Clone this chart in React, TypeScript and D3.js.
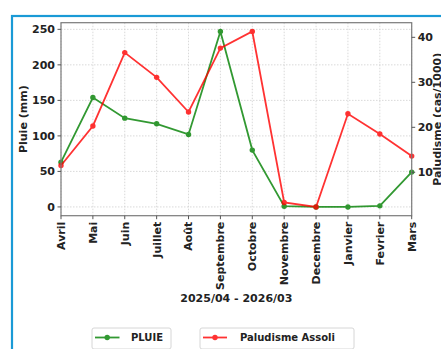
import React from "react";
import * as d3 from "d3";

const months = ["Avril", "Mai", "Juin", "Juillet", "Août", "Septembre", "Octobre", "Novembre", "Decembre", "Janvier", "Fevrier", "Mars"];
const pluie = [63, 154, 125, 117, 102, 247, 80, 1, 0, 0, 1.5, 49];
const paludisme = [11.5, 20.3, 36.6, 31.1, 23.4, 37.6, 41.3, 3.3, 2.3, 23.0, 18.5, 13.6];
const leftTicks = [0, 50, 100, 150, 200, 250];
const rightTicks = [10, 20, 30, 40];

const W = 441;
const H = 349;
const L = 61, R = 411.7, T = 22.7, B = 215.7;
const FONT = "'DejaVu Sans', sans-serif";

function padded(vals: number[]): [number, number] {
  const mn = d3.min(vals)!, mx = d3.max(vals)!;
  const r = mx - mn;
  return [mn - 0.05 * r, mx + 0.05 * r];
}

export default function App() {
  const x = d3.scalePoint<string>().domain(months).range([L, R]);
  const yL = d3.scaleLinear().domain(padded(pluie)).range([B, T]);
  const yR = d3.scaleLinear().domain(padded(paludisme)).range([B, T]);
  const lineL = d3.line<number>().x((_, i) => x(months[i])!).y((d) => yL(d));
  const lineR = d3.line<number>().x((_, i) => x(months[i])!).y((d) => yR(d));
  const green = "#008000";
  const red = "#ff0000";

  return (
    <svg width={W} height={H} style={{ position: "absolute", left: 0, top: 0, background: "#fff" }} fontFamily={FONT}>
      <rect x={0} y={0} width={W} height={H} fill="#fff" />
      <rect x={12} y={16} width={460} height={360} fill="none" stroke="#1a9ad6" strokeWidth={2.2} />
      {/* grid */}
      {months.map((m) => (
        <line key={"gx" + m} x1={x(m)} x2={x(m)} y1={T} y2={B} stroke="#cfcfcf" strokeWidth={0.8} strokeDasharray="1.5,1.5" />
      ))}
      {leftTicks.map((t) => (
        <line key={"gy" + t} x1={L} x2={R} y1={yL(t)} y2={yL(t)} stroke="#cfcfcf" strokeWidth={0.8} strokeDasharray="1.5,1.5" />
      ))}
      {/* lines */}
      <g opacity={0.8}>
        <path d={lineL(pluie)!} fill="none" stroke={green} strokeWidth={1.8} />
        {pluie.map((v, i) => (
          <circle key={"pg" + i} cx={x(months[i])} cy={yL(v)} r={2.7} fill={green} />
        ))}
      </g>
      <g opacity={0.8}>
        <path d={lineR(paludisme)!} fill="none" stroke={red} strokeWidth={1.8} />
        {paludisme.map((v, i) => (
          <circle key={"pr" + i} cx={x(months[i])} cy={yR(v)} r={2.7} fill={red} />
        ))}
      </g>
      {/* frame */}
      <rect x={L} y={T} width={R - L} height={B - T} fill="none" stroke="#7a7a7a" strokeWidth={1.2} />
      {/* left axis */}
      {leftTicks.map((t) => (
        <g key={"lt" + t}>
          <line x1={L - 3.5} x2={L} y1={yL(t)} y2={yL(t)} stroke="#555" strokeWidth={1} />
          <text x={L - 6} y={yL(t)} dy="0.36em" textAnchor="end" fontSize={11} fontWeight="bold" fill="#222">{t}</text>
        </g>
      ))}
      {/* right axis */}
      {rightTicks.map((t) => (
        <g key={"rt" + t}>
          <line x1={R} x2={R + 3.5} y1={yR(t)} y2={yR(t)} stroke="#555" strokeWidth={1} />
          <text x={R + 6} y={yR(t)} dy="0.36em" textAnchor="start" fontSize={11} fontWeight="bold" fill="#222">{t}</text>
        </g>
      ))}
      {/* x axis */}
      {months.map((m) => (
        <g key={"xt" + m}>
          <line x1={x(m)} x2={x(m)} y1={B} y2={B + 3.5} stroke="#555" strokeWidth={1} />
          <text transform={`translate(${x(m)},${B + 6}) rotate(-90)`} dy="0.36em" textAnchor="end" fontSize={11} fontWeight="bold" fill="#222">{m}</text>
        </g>
      ))}
      <text x={(L + R) / 2} y={302} textAnchor="middle" fontSize={11} fontWeight="bold" fill="#222">2025/04 - 2026/03</text>
      <text transform={`translate(23,${(T + B) / 2}) rotate(-90)`} dy="0.36em" textAnchor="middle" fontSize={11} fontWeight="bold" fill="#222">Pluie (mm)</text>
      <text transform={`translate(437,${(T + B) / 2}) rotate(-90)`} dy="0.36em" textAnchor="middle" fontSize={11} fontWeight="bold" fill="#222">Paludisme (cas/1000)</text>
      {/* legend */}
      <rect x={92} y={328} width={79} height={21} rx={2} fill="#fff" stroke="#d6d6d6" strokeWidth={1} />
      <g opacity={0.8}>
        <line x1={95} x2={119.5} y1={337.5} y2={337.5} stroke={green} strokeWidth={1.8} />
        <circle cx={107.2} cy={337.5} r={2.7} fill={green} />
      </g>
      <text x={131} y={341} fontSize={10} fontWeight="bold" fill="#222">PLUIE</text>
      <rect x={200} y={328} width={154} height={21} rx={2} fill="#fff" stroke="#d6d6d6" strokeWidth={1} />
      <g opacity={0.8}>
        <line x1={203} x2={227} y1={337.5} y2={337.5} stroke={red} strokeWidth={1.8} />
        <circle cx={215} cy={337.5} r={2.7} fill={red} />
      </g>
      <text x={240} y={341} fontSize={10} fontWeight="bold" fill="#222">Paludisme Assoli</text>
    </svg>
  );
}
